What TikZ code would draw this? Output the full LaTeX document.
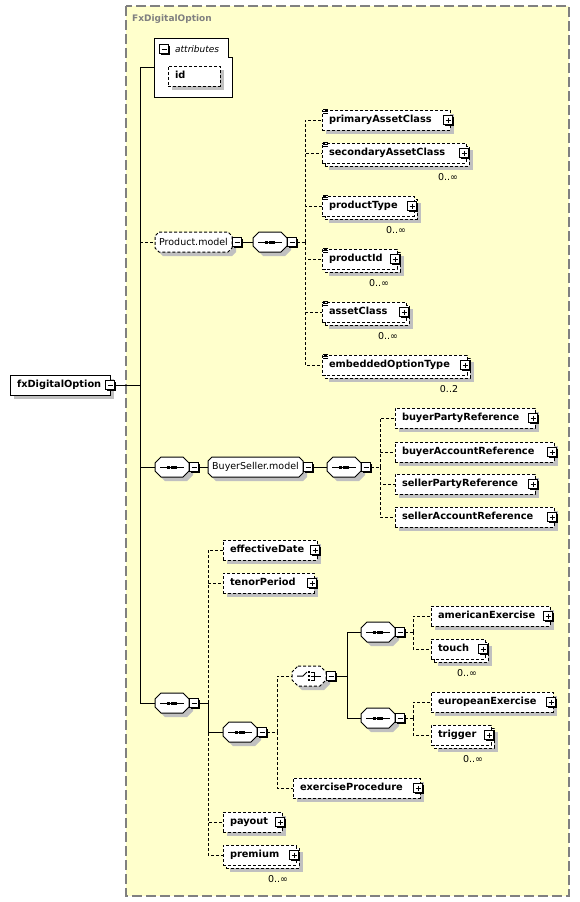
\documentclass[tikz,border=0pt]{standalone}
\usepackage{fontspec}
\newfontfamily\dv{DejaVu Sans}
\usetikzlibrary{shadows}
\definecolor{bgyellow}{HTML}{FFFFCC}
\definecolor{shadowc}{HTML}{C0C0C0}
\definecolor{framegray}{HTML}{808080}
\newcommand\lblfont{\dv\bfseries\fontsize{9.8}{11}\selectfont}
\newcommand\regfont{\dv\fontsize{9.5}{11}\selectfont}
\tikzset{
  conn/.style={draw=black, line width=1pt},
  dconn/.style={conn, dash pattern=on 3pt off 2pt},
  boxbase/.style={draw=black, fill=white, line width=1pt, minimum height=20pt, inner xsep=7pt, inner ysep=0pt, outer sep=0pt, anchor=west, font=\lblfont, text height=7pt, text depth=2pt},
  dashedborder/.style={dash pattern=on 3pt off 2pt},
  single/.style={general shadow={fill=shadowc, shadow xshift=4pt, shadow yshift=-4pt}},
  multi/.style={general shadow={fill=shadowc, shadow xshift=7pt, shadow yshift=-7pt},
                general shadow={fill=white, draw=black, line width=1pt, dash pattern=on 3pt off 2pt, shadow xshift=3pt, shadow yshift=-3pt}},
  pmbox/.style={draw=black, fill=white, line width=1pt, minimum size=9pt, inner sep=0pt, outer sep=0pt,
                general shadow={fill=black, shadow xshift=1pt, shadow yshift=-1pt}},
  minusbox/.style={pmbox, path picture={\draw[line width=1pt] ([xshift=2pt]path picture bounding box.west) -- ([xshift=-2pt]path picture bounding box.east);}},
  plusbox/.style={pmbox, path picture={\draw[line width=1pt] ([xshift=2pt]path picture bounding box.west) -- ([xshift=-2pt]path picture bounding box.east) ([yshift=-2pt]path picture bounding box.north) -- ([yshift=2pt]path picture bounding box.south);}},
  mult/.style={font=\regfont, inner sep=0pt},
}
% element: [style]{name}{x0}{yc}{w}{text}
\newcommand\elem[6][single]{%
  \node[boxbase, dashedborder, #1, minimum width=#5pt] (#2) at (#3,#4) {\makebox[\dimexpr#5pt-14pt\relax][l]{#6}};
  \node[plusbox] (#2-p) at ([xshift=-2pt]#2.east) {};
}
\newcommand\melem[6]{%
  \elem[multi]{#1}{#2}{#3}{#4}{#5}
  \node[mult] (#1-n) at ([shift={(-16,24)}]#1-p.center) {#6};
}
% group octagon: [opts]{name}{x0}{yc}{w}{chamfer}
\newcommand\grp[6][single]{%
  \path[draw=black, fill=white, line width=1pt, #1] (#3+#6,#4-10) -- (#3+#5-#6,#4-10) -- (#3+#5,#4-10+#6) -- (#3+#5,#4+10-#6) -- (#3+#5-#6,#4+10) -- (#3+#6,#4+10) -- (#3,#4+10-#6) -- (#3,#4-10+#6) -- cycle;
  \node[anchor=west, minimum width=#5pt, minimum height=20pt, inner sep=0pt, outer sep=0pt] (#2) at (#3,#4) {};
  \node[minusbox] (#2-m) at ([xshift=5pt]#2.east) {};
}
\newcommand\seqicon[1]{%
  \draw[line width=1pt] ([xshift=5pt]#1.west) -- ([xshift=-5pt]#1.east);
  \fill ([shift={(-5,-1.5)}]#1.center) rectangle ++(3,3);
  \fill ([shift={(-1.5,-1.5)}]#1.center) rectangle ++(3,3);
  \fill ([shift={(2,-1.5)}]#1.center) rectangle ++(3,3);
}
\newcommand\choiceicon[1]{%
  \draw[line width=1pt] ([xshift=5pt]#1.west) -- ++(6,0) -- ++(4,-4);
  \fill ([shift={(16,-5)}]#1.west) rectangle ++(2,2);
  \fill ([shift={(16,-1)}]#1.west) rectangle ++(2,2);
  \fill ([shift={(16,3)}]#1.west) rectangle ++(2,2);
  \draw[line width=0.8pt] ([shift={(19,-4)}]#1.west) -- ++(3,0) -- ++(0,8) -- ++(-3,0)
        ([shift={(19,0)}]#1.west) -- ([xshift=-5pt]#1.east);
}
\newcommand\eqicon[1]{%
  \draw[line width=0.8pt] ([shift={(1,-1)}]#1.north west) -- ++(5,0)
        ([shift={(1,1)}]#1.north west) -- ++(5,0)
        ([shift={(1,3)}]#1.north west) -- ++(5,0);
}
\begin{document}
\begin{tikzpicture}[x=1pt,y=-1pt]
\useasboundingbox (0,0) rectangle (579,902);
% background frame
\fill[bgyellow] (126,6) rectangle (569,896);
\draw[framegray, line width=1.5pt, dash pattern=on 10pt off 4pt] (126,6) rectangle (569,896);
\node[font=\dv\bfseries\fontsize{9}{11}\selectfont, text=framegray, anchor=west, inner sep=0pt] (title) at (132,19) {FxDigitalOption};

% attributes
\path[draw=black, fill=white, line width=1pt] (154,38) -- (228,38) -- (228,57) -- (232,57) -- (232,97) -- (154,97) -- cycle;
\node[minimum width=78pt, minimum height=59pt, inner sep=0pt, outer sep=0pt, anchor=north west] (attr) at (154,38) {};
\node[minusbox] (attr-m) at (164,49) {};
\node[font=\dv\itshape\fontsize{9}{11}\selectfont, anchor=west, inner sep=0pt] (attr-t) at (175,49) {attributes};
\node[boxbase, dashedborder, single, minimum width=52pt] (id) at (168,76) {\makebox[38pt][l]{id}};

% root
\node[boxbase, single, minimum width=100pt] (root) at (10,385) {\makebox[86pt][l]{fxDigitalOption}};
\node[minusbox] (root-m) at (root.east) {};

% Product.model
\grp[dashedborder,single]{pm}{155}{242}{77}{4}
\node[font=\regfont, inner sep=0pt] (pm-t) at (pm.center) {Product.model};
\grp{sqa}{253}{242}{34}{6}
\seqicon{sqa}
\elem{pac}{322}{120}{128}{primaryAssetClass}
\melem{sac}{322}{153}{144}{secondaryAssetClass}{0..∞}
\melem{pt}{322}{206}{92}{productType}{0..∞}
\melem{pid}{322}{259}{75}{productId}{0..∞}
\melem{ac}{322}{312}{84}{assetClass}{0..∞}
\melem{eot}{322}{365}{145}{embeddedOptionType}{0..2}
\foreach \c in {pac,sac,pt,pid,ac,eot} {\eqicon{\c}}

% BuyerSeller
\grp{sqb}{155}{467}{34}{6}
\seqicon{sqb}
\grp{bsm}{208}{467}{95}{4}
\node[font=\regfont, inner sep=0pt] (bsm-t) at (bsm.center) {BuyerSeller.model};
\grp{sqb2}{327}{467}{34}{6}
\seqicon{sqb2}
\elem{bpr}{395}{418}{140}{buyerPartyReference}
\elem{bar}{395}{452}{159}{buyerAccountReference}
\elem{spr}{395}{484}{140}{sellerPartyReference}
\elem{sar}{395}{517}{159}{sellerAccountReference}

% bottom sequence
\grp{sqc}{155}{703}{34}{6}
\seqicon{sqc}
\elem{ed}{223}{550}{94}{effectiveDate}
\elem{tp}{223}{583}{91}{tenorPeriod}
\grp{sqm}{223}{732}{34}{6}
\seqicon{sqm}
\grp[dashedborder,single]{ch}{292}{676}{34}{6}
\choiceicon{ch}
\grp{sq1}{361}{632}{34}{6}
\seqicon{sq1}
\grp{sq2}{361}{718}{34}{6}
\seqicon{sq2}
\elem{ae}{431}{616}{119}{americanExercise}
\melem{to}{431}{649}{54}{touch}{0..∞}
\elem{ee}{431}{702}{122}{europeanExercise}
\melem{tr}{431}{735}{60}{trigger}{0..∞}
\elem{ep}{293}{788}{127}{exerciseProcedure}
\elem{po}{223}{822}{59}{payout}
\melem{pr}{223}{855}{73}{premium}{0..∞}

% connectors
\coordinate (T) at (140,385);
\draw[conn] (root-m.east) -- (T);
\draw[conn] (attr.west) -| (T |- sqc.west) -- (sqc.west);
\draw[dconn] (T |- pm.west) -- (pm.west);
\draw[conn] (T |- sqb.west) -- (sqb.west);
\draw[conn] (pm-m.east) -- (sqa.west);
\coordinate (JA) at (305,242);
\draw[dconn] (sqa-m.east) -- (JA);
\foreach \c in {pac,sac,pt,pid,ac,eot} {\draw[dconn] (JA) |- (\c.west);}

\draw[conn] (sqb-m.east) -- (bsm.west);
\draw[conn] (bsm-m.east) -- (sqb2.west);
\coordinate (JB) at (380,467);
\draw[dconn] (sqb2-m.east) -- (JB);
\foreach \c in {bpr,bar,spr,sar} {\draw[dconn] (JB) |- (\c.west);}

\coordinate (JC) at (208,703);
\draw[conn] (sqc-m.east) -- (JC);
\draw[conn] (JC) |- (sqm.west);
\foreach \c in {ed,tp,po,pr} {\draw[dconn] (JC) |- (\c.west);}
\coordinate (JM) at (277,732);
\draw[dconn] (sqm-m.east) -- (JM);
\foreach \c in {ch,ep} {\draw[dconn] (JM) |- (\c.west);}
\coordinate (JH) at (347,676);
\draw[conn] (ch-m.east) -- (JH);
\foreach \c in {sq1,sq2} {\draw[conn] (JH) |- (\c.west);}
\coordinate (J1) at (413,632);
\draw[dconn] (sq1-m.east) -- (J1);
\foreach \c in {ae,to} {\draw[dconn] (J1) |- (\c.west);}
\coordinate (J2) at (413,718);
\draw[dconn] (sq2-m.east) -- (J2);
\foreach \c in {ee,tr} {\draw[dconn] (J2) |- (\c.west);}
\end{tikzpicture}
\end{document}
